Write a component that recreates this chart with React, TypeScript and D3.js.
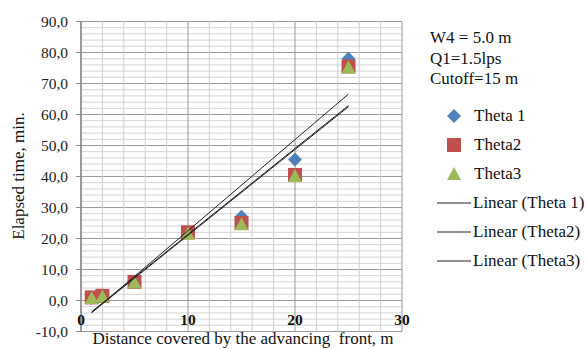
import React from 'react'
import * as d3 from 'd3'

const width = 587
const height = 349

const distances = [1, 2, 5, 10, 15, 20, 25]
const theta1 = [1.0, 1.5, 6.0, 22.0, 27.0, 45.5, 78.0]
const theta2 = [1.0, 1.5, 6.0, 22.0, 25.0, 40.5, 75.5]
const theta3 = [0.8, 1.3, 5.8, 21.5, 24.6, 40.2, 75.2]
const seriesNames = ['Theta 1', 'Theta2', 'Theta3']
const trendNames = ['Linear (Theta 1)', 'Linear (Theta2)', 'Linear (Theta3)']
const notes = ['W4 = 5.0 m', 'Q1=1.5lps', 'Cutoff=15 m']
const xTicks = [0, 10, 20, 30]
const yTicks = [-10, 0, 10, 20, 30, 40, 50, 60, 70, 80, 90]

const colors = ['#4F81BD', '#C0504D', '#9BBB59']
const font = "'Liberation Serif', 'Times New Roman', serif"

const x = d3.scaleLinear().domain([0, 30]).range([81, 402])
const y = d3.scaleLinear().domain([-10, 90]).range([331.5, 21.5])

// least squares fit, same as Excel's linear trendline
function fit(xs: number[], ys: number[]) {
  const mx = d3.mean(xs)!
  const my = d3.mean(ys)!
  let sxy = 0
  let sxx = 0
  xs.forEach((v, i) => {
    sxy += (v - mx) * (ys[i] - my)
    sxx += (v - mx) * (v - mx)
  })
  const slope = sxy / sxx
  return { slope, intercept: my - slope * mx }
}

const marker = (kind: number, cx: number, cy: number, key: string) => {
  if (kind === 0) {
    const r = 7
    return <path key={key} d={`M${cx},${cy - r}L${cx + r},${cy}L${cx},${cy + r}L${cx - r},${cy}Z`} fill={colors[0]} />
  }
  if (kind === 1) {
    return <rect key={key} x={cx - 7} y={cy - 7} width={14} height={14} fill={colors[1]} />
  }
  return <path key={key} d={`M${cx},${cy - 7}L${cx + 7},${cy + 6}L${cx - 7},${cy + 6}Z`} fill={colors[2]} />
}

const fmt = (v: number) => d3.format('.1f')(v).replace('.', ',').replace('−', '-')

export default function App() {
  const series = [theta1, theta2, theta3]
  const minorX = d3.range(0, 31, 2)
  const minorY = d3.range(-10, 91, 2)
  const [x0, x1] = d3.extent(distances) as [number, number]
  const line = d3.line<[number, number]>().x(d => x(d[0])).y(d => y(d[1]))

  return (
    <svg width={width} height={height} style={{ position: 'absolute', left: 0, top: 0, background: '#fff', fontFamily: font }}>
      {/* grid */}
      {minorY.map(v => (
        <line key={'hy' + v} x1={x(0)} x2={x(30)} y1={y(v)} y2={y(v)}
          stroke={v % 10 === 0 ? '#9a9a9a' : '#d4d4d4'} strokeWidth={1} />
      ))}
      {minorX.map(v => (
        <line key={'vx' + v} x1={x(v)} x2={x(v)} y1={y(-10)} y2={y(90)}
          stroke={v % 10 === 0 ? '#9a9a9a' : '#cfcfcf'} strokeWidth={1} />
      ))}
      <line x1={x(0)} x2={x(0)} y1={y(-10)} y2={y(90)} stroke="#8a8a8a" strokeWidth={1.5} />
      {yTicks.map(v => (
        <line key={'t' + v} x1={x(0) - 5} x2={x(0)} y1={y(v)} y2={y(v)} stroke="#8a8a8a" />
      ))}

      {/* y tick labels */}
      {yTicks.map(v => (
        <text key={'yl' + v} x={68} y={y(v) + 5} textAnchor="end" fontSize={15.5} fill="#222">{fmt(v)}</text>
      ))}
      {/* x tick labels */}
      {xTicks.map(v => (
        <text key={'xl' + v} x={x(v)} y={325} textAnchor="middle" fontSize={15.5} fontWeight="bold" fill="#111">{v}</text>
      ))}

      {/* markers */}
      {series.map((vals, s) => vals.map((v, i) => marker(s, x(distances[i]), y(v), `m${s}-${i}`)))}

      {/* trendlines */}
      {series.map((vals, s) => {
        const { slope, intercept } = fit(distances, vals)
        return (
          <path key={'tr' + s} d={line([[x0, slope * x0 + intercept], [x1, slope * x1 + intercept]]) || ''}
            fill="none" stroke="#222" strokeWidth={1} />
        )
      })}

      {/* axis titles */}
      <text transform={`translate(24,${176}) rotate(-90)`} textAnchor="middle" fontSize={17} fill="#111">Elapsed time, min.</text>
      <text x={243} y={344} textAnchor="middle" fontSize={17} fill="#111" style={{ whiteSpace: 'pre' }}>Distance covered by the advancing  front, m</text>

      {/* notes */}
      {notes.map((t, i) => (
        <text key={'n' + i} x={430} y={43 + i * 20.5} fontSize={17} fill="#111">{t}</text>
      ))}

      {/* legend */}
      {seriesNames.map((name, i) => (
        <g key={'lg' + i}>
          {marker(i, 454, 116 + i * 29, 'lm' + i)}
          <text x={474} y={121 + i * 29} fontSize={17} fill="#111">{name}</text>
        </g>
      ))}
      {trendNames.map((name, i) => (
        <g key={'lt' + i}>
          <line x1={437} x2={471} y1={203 + i * 29} y2={203 + i * 29} stroke="#222" strokeWidth={1} />
          <text x={473} y={208 + i * 29} fontSize={17} fill="#111">{name}</text>
        </g>
      ))}
    </svg>
  )
}
